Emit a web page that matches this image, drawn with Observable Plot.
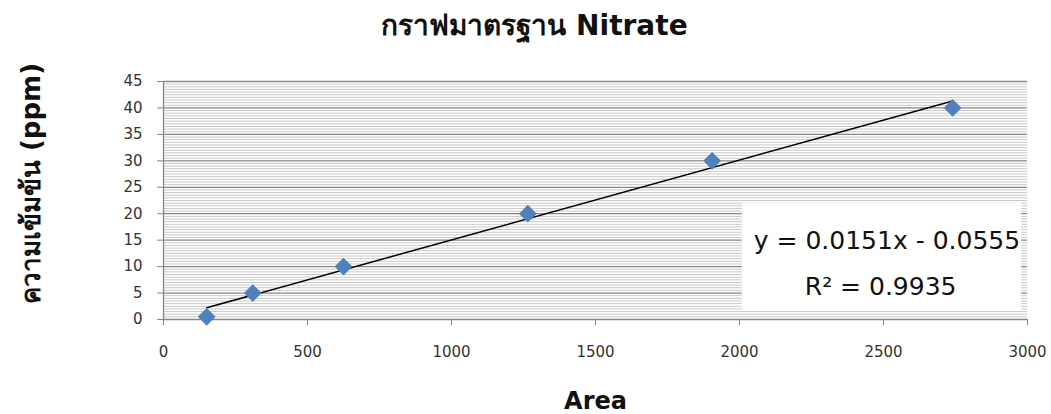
<!DOCTYPE html>
<html><head><meta charset="utf-8">
<script src="https://cdn.jsdelivr.net/npm/d3@7"></script>
<script src="https://cdn.jsdelivr.net/npm/@observablehq/plot@0.6"></script>
<style>body{margin:0;background:#fff;} #chart svg{display:block;}</style>
</head><body><div id="chart"></div>
<script>
// Data
const areas = [150, 310, 625, 1265, 1905, 2740];
const concentrations = [0.5, 5, 10, 20, 30, 40];
const slope = 0.0151, intercept = -0.0555;
const equationText = "y = 0.0151x - 0.0555";
const r2Text = "R² = 0.9935";
const titleText = "กราฟมาตรฐาน Nitrate";
const yLabelText = "ความเข้มข้น (ppm)";
const xLabelText = "Area";
const xTicks = [0, 500, 1000, 1500, 2000, 2500, 3000];
const yTicks = [0, 5, 10, 15, 20, 25, 30, 35, 40, 45];
const yMinorTicks = d3.range(0, 45.001, 0.5).filter(v => v % 5 !== 0);

const points = areas.map((a, i) => ({area: a, conc: concentrations[i]}));
const xMin = d3.min(areas), xMax = d3.max(areas);
const trend = [xMin, xMax].map(a => ({area: a, conc: slope * a + intercept}));
const eqBox = [{x1: 2010, x2: 2980, y1: 1.5, y2: 22}];

const font = "DejaVu Sans, Noto Sans, sans-serif";
const gridMajor = "#868686", gridMinor = "#c8c8c8";

const chart = Plot.plot({
  width: 1051, height: 414,
  marginLeft: 163, marginRight: 24, marginTop: 81, marginBottom: 95,
  style: {fontFamily: font, background: "#fff"},
  x: {domain: [0, 3000], ticks: xTicks},
  y: {domain: [0, 45], ticks: yTicks},
  marks: [
    Plot.ruleY(yMinorTicks, {stroke: gridMinor, strokeWidth: 1}),
    Plot.ruleY(yTicks, {stroke: gridMajor, strokeWidth: 1.3}),
    Plot.ruleX([0], {stroke: gridMajor, strokeWidth: 1.3}),
    Plot.axisY(yTicks, {tickSize: 6, tickPadding: 15, tickFormat: "d", stroke: gridMajor, fill: "#333", fontSize: 15, label: null}),
    Plot.axisX(xTicks, {tickSize: 6, tickPadding: 21, tickFormat: "d", stroke: gridMajor, fill: "#333", fontSize: 15, label: null}),
    Plot.rect(eqBox, {x1: "x1", x2: "x2", y1: "y1", y2: "y2", fill: "white"}),
    Plot.line(trend, {x: "area", y: "conc", stroke: "black", strokeWidth: 1.5}),
    Plot.dot(points, {x: "area", y: "conc", symbol: "diamond2", r: 8, fill: "#4f81bd", stroke: "none"}),
    Plot.text([equationText], {x: 2512, y: 14.9, fontSize: 25, fill: "#111"}),
    Plot.text([r2Text], {x: 2490, y: 6.1, fontSize: 25, fill: "#111"}),
    Plot.text([titleText], {frameAnchor: "top", dx: -61, dy: -66, fontSize: 28, fontWeight: "bold", fill: "#111"}),
    Plot.text([yLabelText], {frameAnchor: "left", textAnchor: "middle", dx: -132, dy: -17, rotate: -90, fontSize: 26, fontWeight: "bold", fill: "#111"}),
    Plot.text([xLabelText], {frameAnchor: "bottom", dy: 89, fontSize: 24, fontWeight: "bold", fill: "#111"})
  ]
});
document.getElementById("chart").appendChild(chart);
</script>
</body></html>
